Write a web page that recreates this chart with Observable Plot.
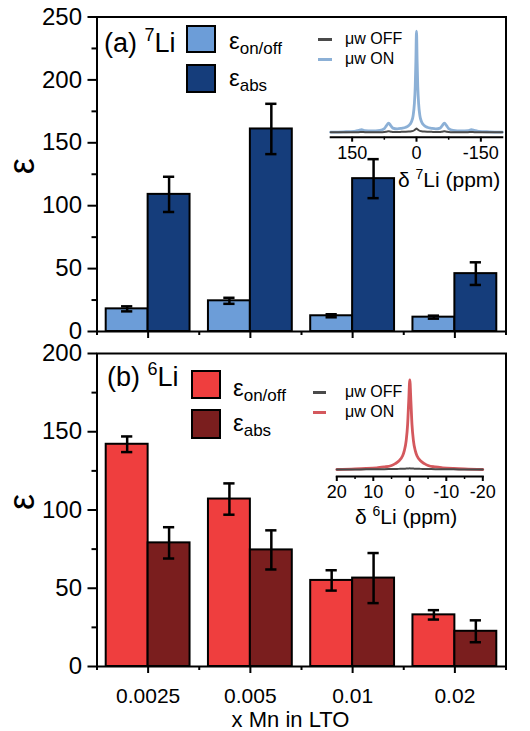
<!DOCTYPE html>
<html>
<head>
<meta charset="utf-8">
<script src="https://cdn.jsdelivr.net/npm/d3@7"></script>
<script src="https://cdn.jsdelivr.net/npm/@observablehq/plot@0.6"></script>
<style>
  html, body { margin: 0; padding: 0; background: #fff; }
  #wrap { position: relative; width: 530px; height: 731px; font-family: "Liberation Sans", Arial, sans-serif; color: #000; overflow: hidden; }
  #wrap > .abs { position: absolute; }
  .box { position: absolute; box-sizing: border-box; border: 2.5px solid #000; }
  .txt { position: absolute; white-space: nowrap; line-height: 1; }
  .sub { position: relative; top: 5px; }
  .ln { position: absolute; height: 3px; }
</style>
</head>
<body>
<div id="wrap"></div>
<script>
// ---------------- data ----------------
const xLabels = ["0.0025", "0.005", "0.01", "0.02"];

// (a) 7Li
const li7OnOff    = [18, 24.4, 12.5, 11.4];
const li7OnOffErr = [2, 2.4, 1.2, 1.2];
const li7Abs      = [109, 161, 121.5, 46];
const li7AbsErr   = [14, 20, 15.5, 9];

// (b) 6Li
const li6OnOff    = [142, 107, 55, 33];
const li6OnOffErr = [5, 10, 6.5, 3];
const li6Abs      = [79, 74.5, 56.5, 22.5];
const li6AbsErr   = [10, 12.5, 16, 7];

const yTicksA = [0, 50, 100, 150, 200, 250];
const yMinorA = [25, 75, 125, 175, 225];
const yTicksB = [0, 50, 100, 150, 200];
const yMinorB = [25, 75, 125, 175];

// inset spectra (normalised to the μw ON peak)
const li7Ppm = [200, 170, 145, 135, 128, 120, 105, 85, 75, 70, 65, 60, 55, 45, 35, 25, 18, 12, 8, 5, 3, 1.5, 0,
                -1.5, -3, -5, -8, -12, -18, -25, -35, -45, -55, -60, -65, -70, -75, -85, -105, -120, -128, -135, -145, -170, -200];
const li7On  = [0, 0.003, 0.008, 0.018, 0.026, 0.014, 0.012, 0.018, 0.035, 0.065, 0.089, 0.065, 0.04, 0.032, 0.038, 0.048, 0.066, 0.1, 0.16, 0.28, 0.45, 0.7, 1.0,
                0.7, 0.45, 0.28, 0.16, 0.1, 0.066, 0.048, 0.038, 0.032, 0.04, 0.065, 0.089, 0.065, 0.035, 0.018, 0.012, 0.014, 0.026, 0.018, 0.008, 0.003, 0];
const li7Off = [0, 0, 0, 0, 0.002, 0, 0, 0, 0.002, 0.005, 0.008, 0.005, 0.002, 0.002, 0.003, 0.004, 0.006, 0.009, 0.013, 0.019, 0.026, 0.031, 0.035,
                0.031, 0.026, 0.019, 0.013, 0.009, 0.006, 0.004, 0.003, 0.002, 0.002, 0.005, 0.008, 0.005, 0.002, 0, 0, 0, 0.002, 0, 0, 0, 0];

const li6Ppm = [20, 16, 12, 9, 7, 5, 4, 3, 2, 1.5, 1, 0.6, 0.3, 0, -0.3, -0.6, -1, -1.5, -2, -3, -4, -5, -7, -9, -12, -16, -20];
const li6On  = [0, 0.005, 0.011, 0.019, 0.028, 0.045, 0.065, 0.095, 0.15, 0.21, 0.32, 0.5, 0.76, 1.0, 0.76, 0.5, 0.32, 0.21, 0.15, 0.095, 0.065, 0.045, 0.028, 0.019, 0.011, 0.005, 0];
const li6Off = [0, 0, 0.002, 0.003, 0.004, 0.005, 0.006, 0.007, 0.008, 0.009, 0.01, 0.011, 0.012, 0.013, 0.012, 0.011, 0.01, 0.009, 0.008, 0.007, 0.006, 0.005, 0.004, 0.003, 0.002, 0, 0];

const li7Ticks = [150, 0, -150], li7Minor = [75, -75];
const li6Ticks = [20, 10, 0, -10, -20], li6Minor = [15, 5, -5, -15];

// ---------------- helpers ----------------
const FONT = "Liberation Sans, Arial, sans-serif";
const BW = 0.41;   // half-group bar width (x units)
const CAP = 0.055; // error-bar cap half width (x units)
const wrap = document.getElementById("wrap");

function rowsOf(vals, errs, side) {
  return vals.map((v, i) => ({pos: i + 1, v, e: errs[i], cx: i + 1 + side * BW / 2}));
}

function barMarks(rows, side, fill) {
  return [
    Plot.rectY(rows, {
      x1: d => side < 0 ? d.pos - BW : d.pos,
      x2: d => side < 0 ? d.pos : d.pos + BW,
      y1: 0, y2: "v", fill, stroke: "#000", strokeWidth: 2
    })
  ];
}
function errMarks(rows) {
  return [
    Plot.ruleX(rows, {x: "cx", y1: d => d.v - d.e, y2: d => d.v + d.e, stroke: "#000", strokeWidth: 2.5}),
    Plot.ruleY(rows, {x1: d => d.cx - CAP, x2: d => d.cx + CAP, y: d => d.v + d.e, stroke: "#000", strokeWidth: 2.5}),
    Plot.ruleY(rows, {x1: d => d.cx - CAP, x2: d => d.cx + CAP, y: d => d.v - d.e, stroke: "#000", strokeWidth: 2.5})
  ];
}

function panel({height, top, mt, mb, ymax, yTicks, yMinor, onoff, abs, c1, c2, xLabelsOn}) {
  const marks = [
    ...barMarks(onoff, -1, c1),
    ...barMarks(abs, 1, c2),
    ...errMarks(onoff),
    ...errMarks(abs),
    Plot.frame({stroke: "#000", strokeWidth: 2}),
    Plot.axisY({ticks: yTicks, tickSize: 9, tickPadding: 6, fontSize: 24, stroke: "#000", strokeWidth: 2, label: null, tickFormat: d => String(d)}),
    Plot.axisY({ticks: yMinor, tickSize: 5, tickPadding: 0, stroke: "#000", strokeWidth: 2, label: null, tickFormat: () => ""}),
    Plot.axisX({ticks: [1, 2, 3, 4], tickSize: 7, tickPadding: 15, fontSize: 21, stroke: "#000", strokeWidth: 2, label: null,
                tickFormat: xLabelsOn ? (d => xLabels[d - 1]) : (() => "")}),
    Plot.axisX({ticks: [0.5, 1.5, 2.5, 3.5, 4.5], tickSize: 4, tickPadding: 0, stroke: "#000", strokeWidth: 2, label: null, tickFormat: () => ""}),
    Plot.text(["ε"], {frameAnchor: "left", dx: -75, rotate: -90, fontSize: 36, fill: "#000"})
  ];
  if (xLabelsOn) marks.push(Plot.text(["x Mn in LTO"], {frameAnchor: "bottom", dx: -11, dy: 60, fontSize: 22, fill: "#000"}));
  const svg = Plot.plot({
    width: 530, height,
    marginTop: mt, marginBottom: mb, marginLeft: 96.5, marginRight: 24.5,
    x: {domain: [0.5, 4.5], label: null},
    y: {domain: [0, ymax], label: null},
    style: {fontFamily: FONT, background: "transparent", overflow: "visible", color: "#000"},
    marks
  });
  svg.classList.add("abs");
  svg.style.left = "0px"; svg.style.top = top + "px";
  wrap.appendChild(svg);
}

function inset({left, top, width, height, mt, mb, ml, mr, xdom, ydom, ppm, on, off, onColor, onWidth, ticks, minor, tickFont}) {
  const onData = ppm.map((p, i) => ({ppm: p, I: on[i]}));
  const offData = ppm.map((p, i) => ({ppm: p, I: off[i]}));
  const svg = Plot.plot({
    width, height, marginTop: mt, marginBottom: mb, marginLeft: ml, marginRight: mr,
    x: {domain: xdom, label: null},
    y: {domain: ydom, axis: null},
    style: {fontFamily: FONT, background: "transparent", overflow: "visible", color: "#000"},
    marks: [
      Plot.line(onData, {x: "ppm", y: "I", stroke: onColor, strokeWidth: onWidth, curve: "monotone-x"}),
      Plot.line(offData, {x: "ppm", y: "I", stroke: "#4a4a4a", strokeWidth: 2, curve: "monotone-x"}),
      Plot.frame({anchor: "bottom", stroke: "#000", strokeWidth: 2}),
      Plot.axisX({ticks, tickSize: 5, tickPadding: 4, fontSize: tickFont, stroke: "#000", strokeWidth: 2, label: null, tickFormat: d => String(d)}),
      Plot.axisX({ticks: minor, tickSize: 3, tickPadding: 0, stroke: "#000", strokeWidth: 1.5, label: null, tickFormat: () => ""})
    ]
  });
  svg.classList.add("abs");
  svg.style.left = left + "px"; svg.style.top = top + "px";
  wrap.appendChild(svg);
}

function el(cls, css, html) {
  const d = document.createElement("div");
  d.className = cls;
  Object.assign(d.style, css);
  if (html != null) d.innerHTML = html;
  wrap.appendChild(d);
  return d;
}

// ---------------- panel (a) ----------------
panel({height: 340, top: 0, mt: 16.5, mb: 9, ymax: 250, yTicks: yTicksA, yMinor: yMinorA,
       onoff: rowsOf(li7OnOff, li7OnOffErr, -1), abs: rowsOf(li7Abs, li7AbsErr, 1),
       c1: "#6c9dd8", c2: "#153d7b", xLabelsOn: false});

// ---------------- panel (b) ----------------
panel({height: 391, top: 340, mt: 13, mb: 65, ymax: 200, yTicks: yTicksB, yMinor: yMinorB,
       onoff: rowsOf(li6OnOff, li6OnOffErr, -1), abs: rowsOf(li6Abs, li6AbsErr, 1),
       c1: "#ef3e3e", c2: "#7a1e1e", xLabelsOn: true});

// ---------------- insets ----------------
inset({left: 315, top: 20, width: 192, height: 180, mt: 10.7, mb: 63.3, ml: 15.2, mr: 5.2,
       xdom: [200, -200], ydom: [-0.05, 1], ppm: li7Ppm, on: li7On, off: li7Off,
       onColor: "#8cb0d6", onWidth: 2.8, ticks: li7Ticks, minor: li7Minor, tickFont: 18});
inset({left: 315, top: 365, width: 180, height: 175, mt: 14.3, mb: 64, ml: 21.3, mr: 12.7,
       xdom: [20, -20], ydom: [-0.078, 1], ppm: li6Ppm, on: li6On, off: li6Off,
       onColor: "#d4585d", onWidth: 2.8, ticks: li6Ticks, minor: li6Minor, tickFont: 18});

// inset axis labels
el("txt", {left: "398px", top: "169px", fontSize: "21px"}, "δ <span style=\"font-size:14px;position:relative;top:-8px\">7</span>Li (ppm)");
el("txt", {left: "355px", top: "506px", fontSize: "21px"}, "δ <span style=\"font-size:14px;position:relative;top:-8px\">6</span>Li (ppm)");

// inset legends
el("ln", {left: "318px", top: "38px", width: "14px", background: "#4a4a4a"});
el("txt", {left: "345px", top: "31px", fontSize: "16px"}, "μw OFF");
el("ln", {left: "318px", top: "58px", width: "14px", background: "#8cb0d6"});
el("txt", {left: "345px", top: "51px", fontSize: "16px"}, "μw ON");

el("ln", {left: "313px", top: "391px", width: "13px", background: "#4a4a4a"});
el("txt", {left: "345px", top: "384px", fontSize: "16px"}, "μw OFF");
el("ln", {left: "313px", top: "411px", width: "13px", background: "#d4585d"});
el("txt", {left: "345px", top: "404px", fontSize: "16px"}, "μw ON");

// ---------------- main legends ----------------
el("txt", {left: "104px", top: "30px", fontSize: "27px"}, "(a) <span style=\"font-size:18px;position:relative;top:-11px\">7</span>Li");
el("box", {left: "186px", top: "25px", width: "30px", height: "28px", background: "#6c9dd8"});
el("box", {left: "186px", top: "64px", width: "30px", height: "29px", background: "#153d7b"});
el("txt", {left: "229px", top: "29px", fontSize: "24px"}, "ε<span class=\"sub\" style=\"font-size:17px\">on/off</span>");
el("txt", {left: "229px", top: "66px", fontSize: "24px"}, "ε<span class=\"sub\" style=\"font-size:17px\">abs</span>");

el("txt", {left: "107px", top: "364px", fontSize: "27px"}, "(b) <span style=\"font-size:18px;position:relative;top:-11px\">6</span>Li");
el("box", {left: "191px", top: "370px", width: "30px", height: "29px", background: "#ef3e3e"});
el("box", {left: "191px", top: "409px", width: "30px", height: "30px", background: "#7a1e1e"});
el("txt", {left: "233px", top: "376px", fontSize: "24px"}, "ε<span class=\"sub\" style=\"font-size:17px\">on/off</span>");
el("txt", {left: "233px", top: "411px", fontSize: "24px"}, "ε<span class=\"sub\" style=\"font-size:17px\">abs</span>");
</script>
</body>
</html>
